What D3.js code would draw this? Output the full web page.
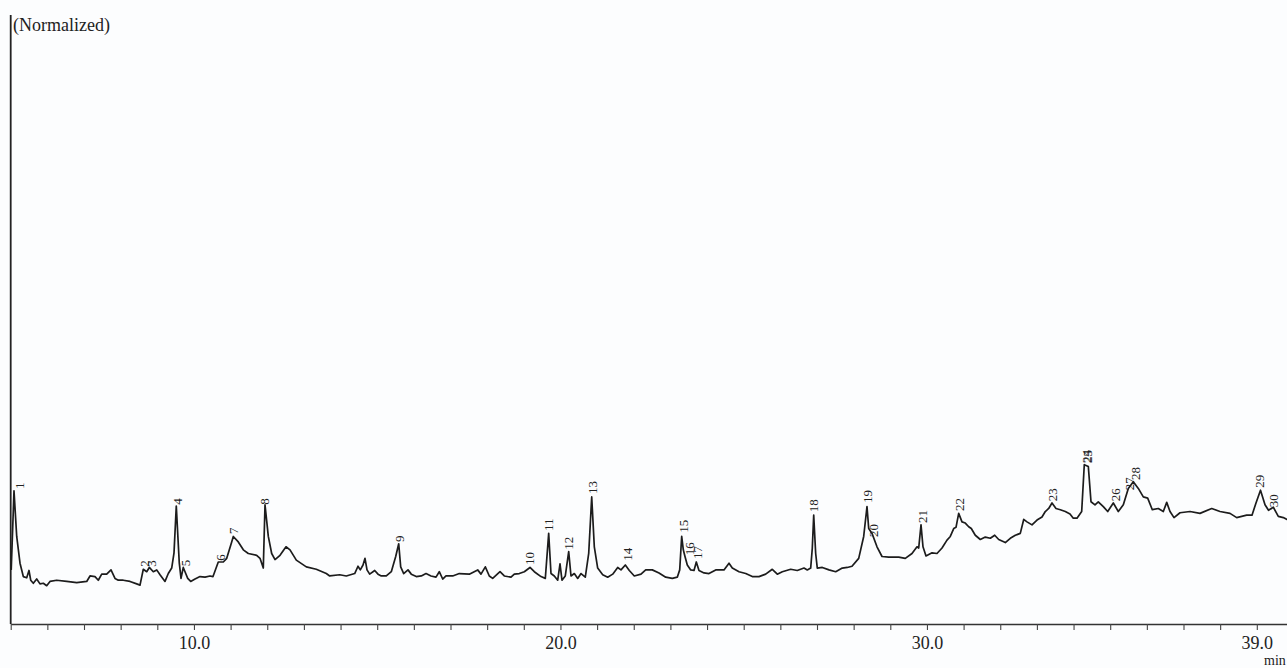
<!DOCTYPE html>
<html>
<head>
<meta charset="utf-8">
<script src="https://cdn.jsdelivr.net/npm/d3@7"></script>
<style>
  html, body { margin: 0; padding: 0; background: #fcfdfe; }
  svg { display: block; }
  text { font-family: "Liberation Serif", "Times New Roman", "DejaVu Serif", serif; fill: #222; }
</style>
</head>
<body>
<svg id="chart" width="1287" height="668"></svg>
<script>
// ---- data (retention time in min, normalized intensity) ----
const retentionTimes = [
  5.014, 5.090, 5.164, 5.254, 5.344, 5.437, 5.499, 5.546, 5.617, 5.709,
  5.799, 5.890, 5.982, 6.072, 6.255, 6.528, 6.801, 7.074, 7.164, 7.300,
  7.390, 7.483, 7.619, 7.737, 7.846, 7.936, 8.072, 8.255, 8.438, 8.528,
  8.618, 8.711, 8.782, 8.891, 8.984, 9.074, 9.210, 9.300, 9.393, 9.456,
  9.518, 9.600, 9.647, 9.709, 9.756, 9.830, 9.911, 10.029, 10.165, 10.302,
  10.438, 10.520, 10.664, 10.801, 10.894, 11.030, 11.074, 11.210, 11.347, 11.483,
  11.712, 11.802, 11.892, 11.939, 12.029, 12.121, 12.212, 12.348, 12.512, 12.621,
  12.793, 13.066, 13.338, 13.611, 13.704, 13.977, 14.157, 14.386, 14.476, 14.539,
  14.613, 14.667, 14.722, 14.795, 14.932, 15.022, 15.112, 15.248, 15.385, 15.505,
  15.587, 15.641, 15.723, 15.840, 15.930, 16.067, 16.203, 16.332, 16.468, 16.604,
  16.694, 16.787, 16.877, 17.060, 17.240, 17.513, 17.742, 17.832, 17.950, 18.059,
  18.151, 18.351, 18.468, 18.651, 18.741, 18.877, 19.014, 19.169, 19.287, 19.469,
  19.587, 19.679, 19.742, 19.832, 19.925, 19.988, 20.042, 20.132, 20.225, 20.288,
  20.378, 20.471, 20.561, 20.678, 20.771, 20.853, 20.924, 21.016, 21.153, 21.289,
  21.426, 21.562, 21.652, 21.770, 21.879, 22.015, 22.198, 22.326, 22.506, 22.689,
  22.872, 23.052, 23.188, 23.254, 23.308, 23.352, 23.398, 23.461, 23.554, 23.644,
  23.707, 23.780, 23.917, 24.053, 24.236, 24.462, 24.599, 24.689, 24.872, 25.055,
  25.235, 25.417, 25.600, 25.780, 25.917, 26.053, 26.282, 26.462, 26.645, 26.735,
  26.828, 26.872, 26.910, 26.964, 27.008, 27.145, 27.327, 27.510, 27.690, 27.827,
  27.955, 28.138, 28.274, 28.364, 28.411, 28.501, 28.637, 28.774, 28.956, 29.229,
  29.409, 29.592, 29.729, 29.775, 29.838, 29.892, 29.974, 30.138, 30.274, 30.411,
  30.547, 30.637, 30.730, 30.793, 30.866, 30.956, 31.046, 31.139, 31.210, 31.319,
  31.456, 31.592, 31.729, 31.849, 31.958, 32.138, 32.274, 32.411, 32.547, 32.640,
  32.730, 32.866, 33.003, 33.139, 33.229, 33.322, 33.412, 33.521, 33.639, 33.775,
  33.903, 33.993, 34.094, 34.222, 34.293, 34.403, 34.476, 34.585, 34.675, 34.812,
  34.932, 35.085, 35.221, 35.358, 35.494, 35.630, 35.767, 35.903, 36.023, 36.149,
  36.313, 36.449, 36.542, 36.632, 36.741, 36.905, 37.178, 37.450, 37.770, 37.996,
  38.269, 38.452, 38.725, 38.869, 38.978, 39.101, 39.224, 39.320, 39.451, 39.587,
  39.723, 39.824, 39.950
];
const intensities = [
  8.9, 21.9, 14.4, 10.0, 7.8, 7.6, 8.8, 7.2, 6.7, 7.4,
  6.6, 6.7, 6.3, 7.0, 7.2, 7.0, 6.8, 7.0, 7.9, 7.8,
  7.2, 8.2, 8.2, 8.9, 7.5, 7.2, 7.2, 7.0, 6.6, 6.4,
  9.0, 8.6, 9.3, 8.6, 8.9, 8.1, 7.0, 8.3, 9.2, 11.7,
  19.4, 10.0, 7.5, 9.3, 8.6, 7.5, 7.0, 7.4, 7.8, 7.7,
  7.9, 7.8, 10.2, 10.2, 10.8, 13.5, 14.4, 13.5, 12.2, 11.6,
  11.3, 10.8, 9.2, 19.6, 14.4, 11.6, 10.6, 11.3, 12.7, 12.2,
  10.5, 9.4, 9.0, 8.3, 7.9, 8.1, 7.9, 8.3, 9.5, 8.9,
  9.7, 10.8, 8.9, 8.2, 8.8, 8.2, 7.9, 7.9, 8.6, 11.1,
  13.2, 9.4, 8.3, 8.9, 8.2, 7.8, 7.9, 8.3, 7.9, 7.7,
  8.6, 7.4, 7.9, 7.9, 8.3, 8.2, 8.9, 8.2, 9.4, 7.9,
  7.5, 8.6, 7.9, 7.7, 8.2, 8.3, 8.6, 9.3, 8.6, 7.8,
  7.5, 14.9, 8.3, 7.9, 7.2, 9.9, 7.2, 7.9, 11.9, 7.9,
  8.3, 7.5, 8.3, 7.7, 11.6, 20.9, 12.7, 9.2, 8.1, 7.7,
  8.2, 9.3, 8.9, 9.7, 8.8, 7.9, 8.2, 8.9, 8.9, 8.4,
  7.7, 7.5, 7.7, 8.9, 14.4, 12.2, 11.1, 9.7, 8.9, 8.8,
  10.2, 8.8, 8.4, 8.3, 8.9, 8.9, 10.0, 9.2, 8.6, 8.3,
  7.8, 7.8, 8.2, 9.0, 8.2, 8.6, 9.0, 8.8, 9.2, 8.9,
  9.2, 12.5, 17.9, 11.6, 9.2, 9.3, 8.9, 8.6, 9.2, 9.3,
  9.5, 10.8, 14.4, 19.3, 15.7, 14.9, 12.7, 11.1, 11.0, 11.0,
  10.8, 11.6, 12.7, 12.5, 16.3, 12.7, 11.2, 11.7, 11.6, 12.5,
  13.8, 14.4, 15.7, 15.9, 18.2, 16.8, 16.6, 16.0, 15.7, 14.6,
  13.9, 14.3, 14.1, 14.6, 13.9, 13.4, 14.1, 14.6, 14.9, 17.2,
  16.8, 16.3, 17.1, 17.6, 18.5, 19.0, 19.9, 19.0, 18.8, 18.5,
  18.1, 17.4, 17.4, 18.5, 26.2, 25.9, 20.1, 19.6, 20.1, 19.3,
  18.5, 19.9, 18.5, 19.6, 22.3, 23.4, 22.3, 20.9, 20.7, 18.8,
  19.0, 18.5, 20.0, 18.5, 17.5, 18.3, 18.5, 18.2, 19.0, 18.5,
  18.2, 17.5, 17.9, 17.9, 19.9, 22.0, 19.6, 18.7, 19.2, 17.7,
  17.5, 17.2, 17.0
];
// peak annotations
const peakLabels  = ["1","2","3","4","5","6","7","8","9","10","11","12","13","14","15",
                     "16","17","18","19","20","21","22","23","24","25","26","27","28","29","30"];
const peakTimes   = [5.240, 8.664, 8.855, 9.538, 9.756, 10.711, 11.079, 11.925, 15.614, 19.156,
                     19.674, 20.233, 20.888, 21.816, 23.371, 23.508, 23.753, 26.905, 28.378, 28.555,
                     29.865, 30.888, 33.439, 34.340, 34.394, 35.131, 35.513, 35.677, 39.087, 39.456];
const peakHeights = [22.2, 9.4, 9.4, 19.6, 9.5, 10.4, 14.8, 19.6, 13.5, 9.7,
                     15.3, 12.2, 21.4, 10.4, 15.0, 11.3, 10.7, 18.4, 19.9, 14.3,
                     16.6, 18.6, 20.2, 26.5, 26.5, 20.2, 22.0, 23.7, 22.4, 19.2];
// axis
const xMinorTicks = [5,6,7,8,9,10,11,12,13,14,15,16,17,18,19,20,21,22,23,24,25,26,27,28,29,30,31,32,33,34,35,36,37,38,39,40];
const xLabelTicks = [10, 20, 30, 39];
const xTickLabels = ["10.0", "20.0", "30.0", "39.0"];
const yAxisTitle = "(Normalized)";
const xAxisUnit = "min";

// ---- layout ----
const svg = d3.select("#chart");
const W = 1287, H = 668;
const x0 = 10.7, pxPerMin = 36.65;
const x = d3.scaleLinear().domain([5, 40]).range([x0, x0 + 35 * pxPerMin]);
const y = d3.scaleLinear().domain([0, 100]).range([624, 16]);

svg.append("rect").attr("width", W).attr("height", H).attr("fill", "#fcfdfe");

// x axis
const xAxis = d3.axisBottom(x)
  .tickValues(xMinorTicks)
  .tickSize(6)
  .tickSizeOuter(0)
  .tickFormat(d => { const i = xLabelTicks.indexOf(d); return i >= 0 ? xTickLabels[i] : ""; });
const gx = svg.append("g").attr("transform", `translate(0,${y(0)})`).call(xAxis);
gx.select(".domain").attr("stroke", "#333").attr("stroke-width", 1.4);
gx.selectAll(".tick line").attr("stroke", "#444").attr("stroke-width", 1.1);
gx.selectAll(".tick text")
  .attr("font-family", '"Liberation Serif", "Times New Roman", serif')
  .attr("font-size", 18).attr("fill", "#222").attr("dy", "0").attr("y", 25);

// y axis line
svg.append("line")
  .attr("x1", x(5)).attr("x2", x(5))
  .attr("y1", 15).attr("y2", y(0))
  .attr("stroke", "#222").attr("stroke-width", 1.8);

svg.append("text").attr("x", 13).attr("y", 31).attr("font-size", 18).text(yAxisTitle);
svg.append("text").attr("x", 1264).attr("y", 665).attr("font-size", 14).text(xAxisUnit);

// trace
const pts = retentionTimes.map((t, i) => [t, intensities[i]]);
const line = d3.line().x(d => x(d[0])).y(d => y(d[1]));
svg.append("path").datum(pts)
  .attr("d", line)
  .attr("fill", "none")
  .attr("stroke", "#1c1c1c")
  .attr("stroke-width", 1.7)
  .attr("stroke-linejoin", "round");

// peak labels (rotated)
svg.append("g").selectAll("text")
  .data(peakLabels)
  .join("text")
  .attr("transform", (d, i) => `translate(${x(peakTimes[i])},${y(peakHeights[i])}) rotate(-90)`)
  .attr("text-anchor", "start")
  .attr("dominant-baseline", "central")
  .attr("font-size", 13)
  .text(d => d);
</script>
</body>
</html>
